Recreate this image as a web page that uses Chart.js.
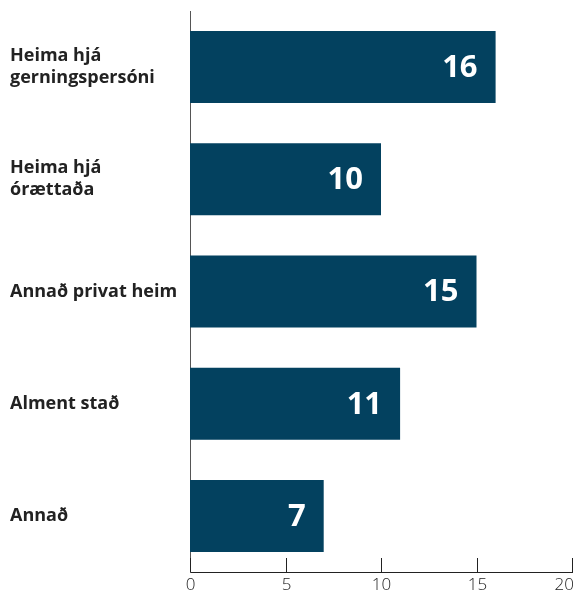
<!DOCTYPE html>
<html><head><meta charset="utf-8">
<script src="https://cdn.jsdelivr.net/npm/chart.js@4"></script>
<style>html,body{margin:0;padding:0;background:#fff;}#wrap{width:577px;height:593px;}</style>
</head><body><div id="wrap"><canvas id="c"></canvas></div>
<script>
const categories = [["Heima hjá","gerningspersóni"],["Heima hjá","órættaða"],"Annað privat heim","Alment stað","Annað"];
const values = [16, 10, 15, 11, 7];
const xTicks = [0, 5, 10, 15, 20];

const barColor = '#03415f';
const FONT = "'Open Sans', sans-serif";

const valueLabels = {
  id: 'valueLabels',
  afterDatasetsDraw(chart) {
    const ctx = chart.ctx;
    const meta = chart.getDatasetMeta(0);
    ctx.save();
    ctx.fillStyle = '#fff';
    ctx.font = "bold 31px " + FONT;
    ctx.textAlign = 'right';
    ctx.textBaseline = 'middle';
    meta.data.forEach((bar, i) => {
      ctx.fillText(String(values[i]), bar.x - 18, bar.y + 1);
    });
    ctx.restore();
  }
};
const xAxisDecor = {
  id: 'xAxisDecor',
  afterDraw(chart) {
    const xs = chart.scales.x;
    const ctx = chart.ctx;
    const W = chart.width;
    ctx.save();
    ctx.strokeStyle = '#222';
    ctx.lineWidth = 1;
    ctx.fillStyle = '#222';
    ctx.font = "300 17px " + FONT;
    ctx.textBaseline = 'top';
    xs.ticks.forEach(t => {
      const px = Math.round(xs.getPixelForValue(t.value)) + 0.5;
      ctx.beginPath();
      ctx.moveTo(px, xs.top);
      ctx.lineTo(px, xs.top - 14);
      ctx.stroke();
      const label = String(t.value);
      const w = ctx.measureText(label).width;
      let lx = px - w / 2;
      if (lx + w > W - 3) lx = W - 3 - w;
      ctx.textAlign = 'left';
      ctx.fillText(label, lx, xs.top + 5);
    });
    ctx.restore();
  }
};

new Chart(document.getElementById('c'), {
  type: 'bar',
  data: {
    labels: categories,
    datasets: [{ data: values, backgroundColor: barColor, barPercentage: 0.642, categoryPercentage: 1.0 }]
  },
  options: {
    indexAxis: 'y',
    responsive: true,
    maintainAspectRatio: false,
    animation: false,
    layout: { padding: { top: 11, right: 5, left: 10, bottom: 0 } },
    plugins: { legend: { display: false }, tooltip: { enabled: false } },
    scales: {
      x: {
        min: 0, max: 20,
        afterBuildTicks(s) { s.ticks = xTicks.map(v => ({ value: v })); },
        grid: { display: false, drawTicks: false },
        border: { display: true, color: '#222', width: 1 },
        ticks: { display: false },
        afterFit(s) { s.height = 21; s.paddingLeft = 0; s.paddingRight = 0; }
      },
      y: {
        grid: { display: false, drawTicks: false },
        border: { display: true, color: '#555', width: 1 },
        afterFit(s) { s.width = 180; s.paddingTop = 0; s.paddingBottom = 0; },
        ticks: { color: '#222', crossAlign: 'far', padding: 4, font: { family: FONT, size: 18, weight: 'bold', lineHeight: 1.22 } }
      }
    }
  },
  plugins: [valueLabels, xAxisDecor]
});
</script></body></html>
